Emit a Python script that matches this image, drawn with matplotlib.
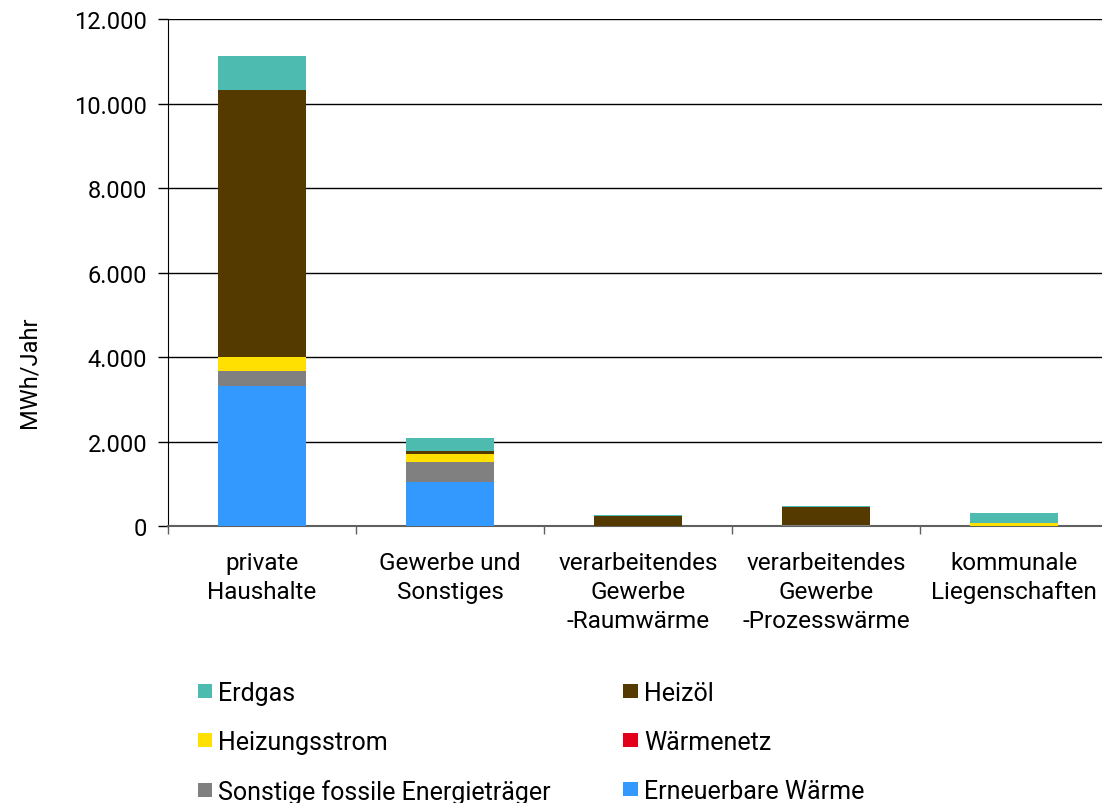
import matplotlib.pyplot as plt
from matplotlib.patches import Patch
import numpy as np

plt.rcParams['font.family'] = ['Roboto', 'DejaVu Sans']

# Kategorien und Werte (MWh/Jahr)
kategorien = ['private\nHaushalte', 'Gewerbe und\nSonstiges', 'verarbeitendes\nGewerbe\n-Raumwärme',
              'verarbeitendes\nGewerbe\n-Prozesswärme', 'kommunale\nLiegenschaften']
erneuerbar = [3310, 1050, 0, 0, 0]
sonstige_fossil = [360, 470, 0, 30, 0]
heizstrom = [330, 180, 0, 0, 70]
waermenetz = [0, 0, 0, 0, 0]
heizoel = [6320, 80, 240, 430, 0]
erdgas = [800, 300, 20, 20, 250]

reihen = [
    ('Erneuerbare Wärme', erneuerbar, '#3399ff'),
    ('Sonstige fossile Energieträger', sonstige_fossil, '#808080'),
    ('Wärmenetz', waermenetz, '#e3001b'),
    ('Heizungsstrom', heizstrom, '#ffe000'),
    ('Heizöl', heizoel, '#553a00'),
    ('Erdgas', erdgas, '#4dbbb0'),
]
farben = {name: c for name, _, c in reihen}

fig = plt.figure(figsize=(11.02, 8.04), dpi=100)
ax = fig.add_axes([0.1525, 0.3445, 0.853, 0.6306])

x = np.arange(len(kategorien))
unten = np.zeros(len(kategorien))
for name, werte, farbe in reihen:
    ax.bar(x, werte, bottom=unten, width=0.47, color=farbe, zorder=3)
    unten += np.array(werte)

ax.set_ylim(0, 12000)
ax.set_xlim(-0.5, 4.5)
ax.set_yticks(np.arange(0, 12001, 2000))
ax.set_yticklabels(['0', '2.000', '4.000', '6.000', '8.000', '10.000', '12.000'], fontsize=17)
ax.yaxis.grid(True, color='black', linewidth=1, zorder=0)
ax.tick_params(axis='y', length=7, width=1, color='black', pad=8)

ax.set_xticks(x)
ax.set_xticklabels(kategorien, fontsize=17.5, linespacing=1.33)
ax.tick_params(axis='x', length=0, pad=18)
ax.set_xticks(np.arange(-0.5, 5, 1), minor=True)
ax.tick_params(axis='x', which='minor', length=6, width=1, color='#606060')

for s in ['top', 'right']:
    ax.spines[s].set_visible(False)
ax.spines['left'].set_color('black')
ax.spines['bottom'].set_color('#606060')
ax.spines['bottom'].set_linewidth(1.5)

ax.set_ylabel('MWh/Jahr', fontsize=17)
ax.yaxis.set_label_coords(-0.136, 0.306)

# Legende in zwei Spalten
def griff(name):
    return Patch(facecolor=farben[name], edgecolor='none')

links = ['Erdgas', 'Heizungsstrom', 'Sonstige fossile Energieträger']
rechts = ['Heizöl', 'Wärmenetz', 'Erneuerbare Wärme']
for namen, xpos in [(links, 0.159), (rechts, 0.545)]:
    fig.legend([griff(n) for n in namen], namen, loc='upper left',
               bbox_to_anchor=(xpos, 0.180), frameon=False, fontsize=18,
               handlelength=0.58, handleheight=0.52, handletextpad=0.25,
               labelspacing=1.0)

fig.savefig('out.png', dpi=100)
